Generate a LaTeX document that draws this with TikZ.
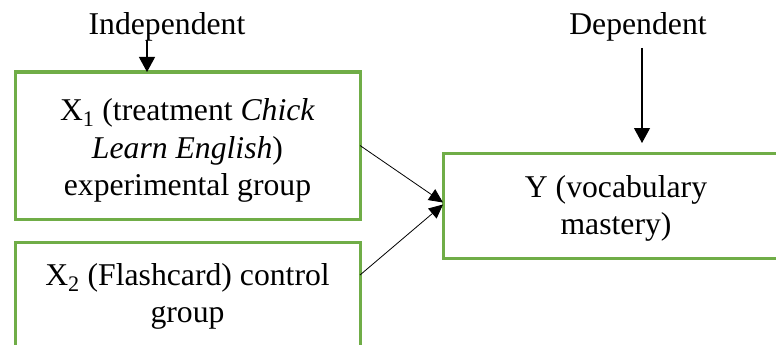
\documentclass[tikz,border=0pt]{standalone}
\usepackage{fontspec}
\setmainfont{Liberation Serif}
\usetikzlibrary{arrows.meta}
\definecolor{boxgreen}{HTML}{70AD47}
\tikzset{
  box/.style={draw=boxgreen,line width=3pt,inner sep=0pt,outer sep=0pt,minimum width=345pt,align=center,font=\fontsize{31.7}{37.5}\selectfont},
  lbl/.style={inner sep=0pt,anchor=base,font=\fontsize{31.7}{37.5}\selectfont},
  arr/.style={line width=1.1pt,-{Triangle[length=15pt,width=16pt]}}
}
\begin{document}
\begin{tikzpicture}[x=1pt,y=-1pt]
\useasboundingbox (0,0) rectangle (776,345);
\node[box,minimum height=147pt] (x1) at (187.5,145.5) {\rule{0pt}{32pt}X\textsubscript{1} (treatment \textit{Chick}\\\textit{Learn English})\\experimental group};
\node[box,minimum height=109pt] (x2) at (187.5,296.5) {X\textsubscript{2} (Flashcard) control\\group};
\node[box,minimum width=346pt,minimum height=105pt] (y) at (616,205.5) {\rule{0pt}{28pt}Y (vocabulary\\mastery)};
\node[lbl] (indep) at (167,35) {Independent};
\node[lbl] (dep) at (638,35) {Dependent};

\coordinate (i1) at (147,40);
\coordinate (d1) at (642,48);
\draw[arr] (i1) -- (i1 |- x1.north);
\draw[arr] (d1) -- ([yshift=10pt]d1 |- y.north);
\draw[line width=0.8pt,-{Triangle[length=14pt,width=13pt]}] (x1.east) -- ([yshift=3pt]y.west);
\draw[line width=0.8pt,-{Triangle[length=14pt,width=13pt]}] ([yshift=-33pt]x2.north east) -- ([yshift=1pt]y.west);
\end{tikzpicture}
\end{document}
